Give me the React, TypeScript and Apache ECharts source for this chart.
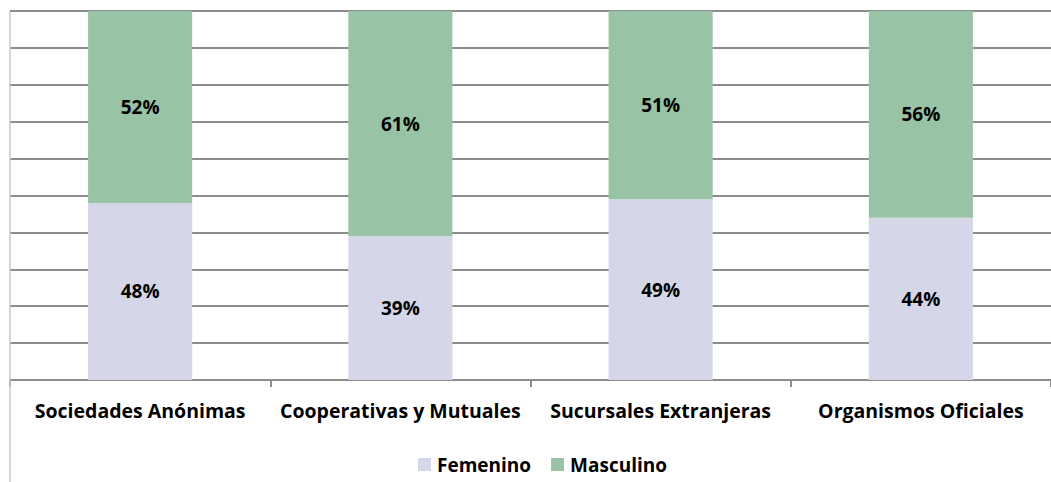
import React, { useEffect, useRef } from "react";
import * as echarts from "echarts";

const categories = ["Sociedades Anónimas", "Cooperativas y Mutuales", "Sucursales Extranjeras", "Organismos Oficiales"];
const femenino = [48, 39, 49, 44];
const masculino = [52, 61, 51, 56];
const seriesNames = ["Femenino", "Masculino"];
const colors = ["#d5d7e8", "#98c4a5"];

export default function App() {
  const ref = useRef<HTMLDivElement>(null);
  useEffect(() => {
    document.body.style.margin = "0";
    const chart = echarts.init(ref.current!, null, { renderer: "svg" });
    const font = "'Open Sans', sans-serif";
    const label = {
      show: true,
      position: "inside",
      formatter: (p: any) => p.value + "%",
      color: "#000",
      fontWeight: "bold",
      fontSize: 19,
      fontFamily: font,
    };
    chart.setOption({
      animation: false,
      backgroundColor: "#fff",
      grid: { left: 10, top: 11, width: 1046, height: 369, containLabel: false },
      legend: {
        data: seriesNames,
        bottom: 3,
        left: 413,
        itemWidth: 13,
        itemHeight: 13,
        itemGap: 20,
        icon: "rect",
        textStyle: { fontSize: 19, fontWeight: "bold", color: "#000", fontFamily: font, padding: [0, 0, 0, 1] },
      },
      xAxis: {
        type: "category",
        data: categories,
        axisLine: { lineStyle: { color: "#8c8c8c", width: 2 } },
        axisTick: { show: true, length: 7, lineStyle: { color: "#8c8c8c", width: 2 } },
        axisLabel: { color: "#000", fontWeight: "bold", fontSize: 19.5, fontFamily: font, margin: 20, interval: 0 },
      },
      yAxis: {
        type: "value",
        min: 0,
        max: 100,
        interval: 10,
        axisLabel: { show: false },
        axisLine: { show: false },
        axisTick: { show: false },
        splitLine: { lineStyle: { color: "#8c8c8c", width: 2 } },
      },
      graphic: [
        { type: "line", shape: { x1: 10, y1: 12, x2: 10, y2: 482 }, style: { stroke: "#c8c8c8", lineWidth: 1.5 }, z: 10 },
      ],
      series: [
        { name: seriesNames[0], type: "bar", stack: "t", data: femenino, barWidth: "40%", itemStyle: { color: colors[0] }, label },
        { name: seriesNames[1], type: "bar", stack: "t", data: masculino, barWidth: "40%", itemStyle: { color: colors[1] }, label },
      ],
    });
    return () => chart.dispose();
  }, []);
  return <div ref={ref} style={{ position: "fixed", left: 0, top: 0, width: 1051, height: 482 }} />;
}
